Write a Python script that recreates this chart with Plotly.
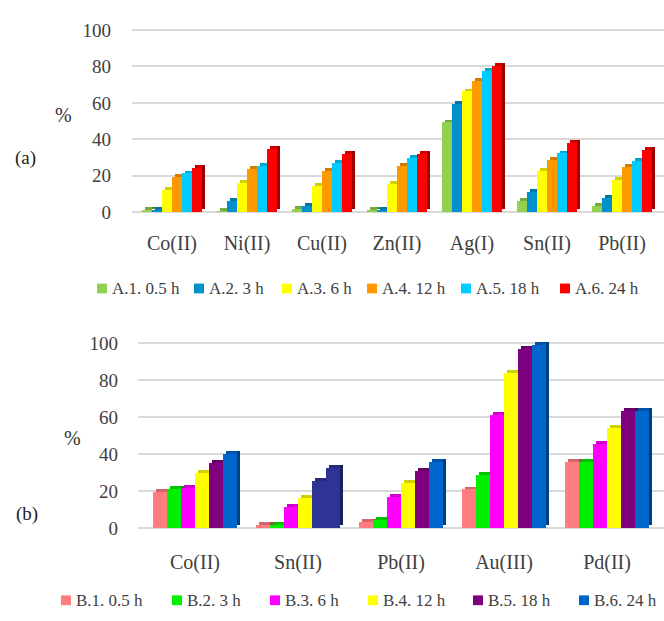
import plotly.graph_objects as go

# ---------------- data ----------------
metals_a = ["Co(II)", "Ni(II)", "Cu(II)", "Zn(II)", "Ag(I)", "Sn(II)", "Pb(II)"]
series_a = ["A.1. 0.5 h", "A.2. 3 h", "A.3. 6 h", "A.4. 12 h", "A.5. 18 h", "A.6. 24 h"]
a1 = [0.8, 0.3, 1.5, 1.0, 49, 6.0, 3.2]
a2 = [0.8, 6.0, 3.0, 1.0, 59, 11.0, 7.5]
a3 = [12.0, 16.0, 14.3, 15.4, 66, 22.3, 17.3]
a4 = [19.0, 23.5, 22.6, 25.0, 72, 28.3, 24.8]
a5 = [21.0, 25.0, 27.0, 29.4, 77, 32.0, 27.8]
a6 = [24.0, 34.7, 31.5, 31.7, 80, 37.5, 33.8]
values_a = [a1, a2, a3, a4, a5, a6]
colors_a = ["#92D050", "#0090CC", "#FFFF00", "#FF9900", "#00CCFF", "#FF0000"]

metals_b = ["Co(II)", "Sn(II)", "Pb(II)", "Au(III)", "Pd(II)"]
series_b = ["B.1. 0.5 h", "B.2. 3 h", "B.3. 6 h", "B.4. 12 h", "B.5. 18 h", "B.6. 24 h"]
b1 = [19.5, 1.8, 3.5, 21, 36]
b2 = [21.4, 2.0, 4.6, 29, 36]
b3 = [22.0, 11.7, 16.7, 61.5, 45.5]
b4 = [30.0, 16.2, 24.7, 84, 54.5]
b5 = [35.5, 25.4, 31.0, 97, 63.7]
b6 = [40.0, 32.6, 36.0, 99, 63.7]
values_b = [b1, b2, b3, b4, b5, b6]
colors_b = ["#FF7C80", "#00F000", "#FF00FF", "#FFFF00", "#7F007F", "#0066CC"]
# the 18 h and 24 h Sn(II) bars are drawn in navy
navy_override = {4: {1: "#2E3496"}, 5: {1: "#2E3496"}}

W, H = 664, 621
FONT = "Liberation Serif"
TXT = "#404040"

# legend key placement (pixel x of each key square, row y)
legend_a_x = [102, 199, 287, 372, 466, 565]
legend_a_y = 290
legend_b_x = [66, 177, 275, 373, 478, 584]
legend_b_y = 609


def shade(hex_color, f):
    h = hex_color.lstrip("#")
    r, g, b = (int(h[i:i + 2], 16) for i in (0, 2, 4))
    return "#%02X%02X%02X" % (int(r * f), int(g * f), int(b * f))


def ydomain(p0, p100, rmin, rmax):
    ppu = (p0 - p100) / 100.0
    bottom = p0 - rmin * ppu
    top = p0 - rmax * ppu
    return [(H - bottom) / H, (H - top) / H]


fig = go.Figure()


def point_colors(cats, base_col, overrides, j):
    cols = [base_col] * len(cats)
    if overrides and j in overrides:
        for k, c in overrides[j].items():
            cols[k] = c
    return cols


def add_panel(cats, names, vals, cols, xa, ya, group, dx, dy, overrides=None):
    n = len(vals)
    w = group / n
    for j in range(n):
        pc = point_colors(cats, cols[j], overrides, j)
        side = [shade(c, 0.62) for c in pc]
        top = [shade(c, 0.82) for c in pc]
        off = -group / 2 + j * w
        # right-hand face
        fig.add_trace(go.Bar(x=cats, y=vals[j], base=[dy] * len(cats), offset=off + dx, width=w,
                             marker=dict(color=side, line=dict(width=0)), xaxis=xa, yaxis=ya,
                             showlegend=False, hoverinfo="skip"))
        # top face
        fig.add_trace(go.Bar(x=cats, y=[dy] * len(cats), base=vals[j], offset=off + dx, width=w - dx,
                             marker=dict(color=top, line=dict(width=0)), xaxis=xa, yaxis=ya,
                             showlegend=False, hoverinfo="skip"))
    for j in range(n):
        pc = point_colors(cats, cols[j], overrides, j)
        off = -group / 2 + j * w
        fig.add_trace(go.Bar(x=cats, y=vals[j], name=names[j], offset=off, width=w,
                             marker=dict(color=pc, line=dict(width=0)),
                             xaxis=xa, yaxis=ya, showlegend=False))


add_panel(metals_a, series_a, values_a, colors_a, "x", "y", 0.8, 0.04, 1.6)
add_panel(metals_b, series_b, values_b, colors_b, "x2", "y2", 0.815, 0.03, 1.6, navy_override)

# legend keys: colour square + series name
shapes, annotations = [], []
for names, cols, xs, yrow in ((series_a, colors_a, legend_a_x, legend_a_y),
                              (series_b, colors_b, legend_b_x, legend_b_y)):
    for name, col, xc in zip(names, cols, xs):
        shapes.append(dict(type="rect", xref="paper", yref="paper", line=dict(width=0), fillcolor=col,
                           x0=(xc - 5) / W, x1=(xc + 5) / W,
                           y0=(H - yrow - 5) / H, y1=(H - yrow + 5) / H))
        annotations.append(dict(text=name, x=(xc + 8) / W, y=(H - yrow) / H, xref="paper", yref="paper",
                                showarrow=False, xanchor="left", yanchor="middle",
                                font=dict(family=FONT, size=17, color=TXT)))

for txt, xp, yp, sz, col in (("%", 63, 113, 20, "#333333"), ("(a)", 25, 157, 19, "#222222"),
                             ("%", 72, 443, 20, "#333333"), ("(b)", 27, 521, 19, "#222222")):
    annotations.append(dict(text=txt, x=xp / W, y=(H - yp) / H, xref="paper", yref="paper",
                            showarrow=False, xanchor="center", yanchor="middle",
                            font=dict(family=FONT, size=sz, color=col)))

ticks = [0, 20, 40, 60, 80, 100]
axis_font = dict(family=FONT, size=19, color=TXT)
cat_font = dict(family=FONT, size=20, color=TXT)

fig.update_layout(
    width=W, height=H,
    margin=dict(l=0, r=0, t=0, b=0),
    paper_bgcolor="white", plot_bgcolor="white",
    barmode="overlay", bargap=0, showlegend=False,
    font=dict(family=FONT, color=TXT),
    xaxis=dict(domain=[132 / W, 1.0], range=[-0.533, 6.56], type="category",
               showgrid=False, zeroline=False, showline=False, ticks="",
               tickfont=cat_font, ticklabelstandoff=15, anchor="y"),
    yaxis=dict(domain=ydomain(212, 25.5, -1, 103), range=[-1, 103], tickvals=ticks,
               showgrid=True, gridcolor="#D9D9D9", gridwidth=2, zeroline=False, showline=False,
               tickfont=axis_font, ticklabelstandoff=20, anchor="x"),
    xaxis2=dict(domain=[138 / W, 1.0], range=[-0.553, 4.553], type="category",
                showgrid=False, zeroline=False, showline=False, ticks="",
                tickfont=cat_font, ticklabelstandoff=18, anchor="y2"),
    yaxis2=dict(domain=ydomain(535, 346, -1, 103), range=[-1, 103], tickvals=ticks,
                showgrid=True, gridcolor="#D9D9D9", gridwidth=2, zeroline=False, showline=False,
                tickfont=axis_font, ticklabelstandoff=19, anchor="x2"),
    shapes=shapes,
    annotations=annotations,
)

fig.write_html("out.html")
